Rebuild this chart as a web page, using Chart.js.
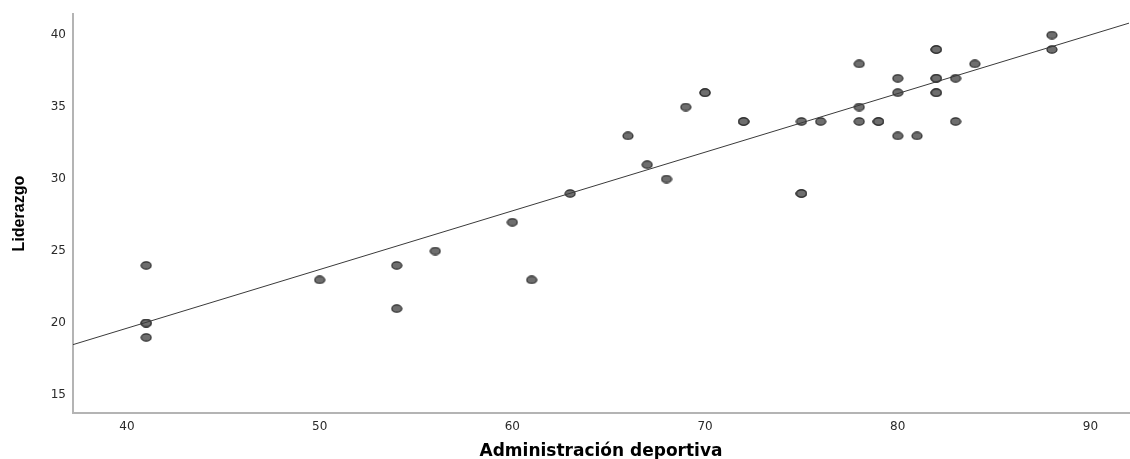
<!DOCTYPE html>
<html>
<head>
<meta charset="utf-8">
<script src="https://cdn.jsdelivr.net/npm/chart.js@4.4.1/dist/chart.umd.min.js"></script>
<style>
html,body{margin:0;padding:0;background:#fff;overflow:hidden;}
#wrap{width:1130px;height:459px;position:relative;overflow:hidden;}
canvas{display:block;}
</style>
</head>
<body>
<div id="wrap"><canvas id="c" width="1135" height="459"></canvas></div>
<script>
// Data
const adminValues = [41,41,41,41,50,54,54,56,60,61,63,66,67,68,69,70,70,72,72,75,75,75,76,78,78,78,79,79,80,80,80,81,82,82,82,82,82,82,83,83,84,88,88];
const liderazgoValues = [24,20,20,19,23,24,21,25,27,23,29,33,31,30,35,36,36,34,34,34,29,29,34,38,35,34,34,34,37,36,33,33,39,39,37,37,36,36,37,34,38,40,39];
const xTicks = [40,50,60,70,80,90];
const yTicks = [15,20,25,30,35,40];
const fitSlope = 0.4075;
const fitIntercept = 3.34;
const xRange = [37.2, 92];
const yRange = [13.75, 41.45];

const points = adminValues.map((x,i)=>({x:x, y:liderazgoValues[i]}));
const fitLine = xRange.map(x=>({x:x, y:fitIntercept + fitSlope*x}));

// elliptical marker
const mk = document.createElement('canvas');
mk.width = 12; mk.height = 9;
(function(){
  const g = mk.getContext('2d');
  g.beginPath();
  g.ellipse(6,4.5,5,3.7,0,0,Math.PI*2);
  g.fillStyle = '#6e6e6e';
  g.fill();
  g.lineWidth = 1.2;
  g.strokeStyle = '#2b2b2b';
  g.stroke();
})();

new Chart(document.getElementById('c'), {
  data: {
    datasets: [
      {
        type: 'line',
        data: fitLine,
        borderColor: '#3a3a3a',
        borderWidth: 1,
        pointRadius: 0,
        fill: false,
        tension: 0
      },
      {
        type: 'scatter',
        data: points,
        pointStyle: mk,
        pointRadius: 5
      }
    ]
  },
  options: {
    responsive: false,
    animation: false,
    events: [],
    layout: { padding: { top: 13, right: 0, left: 0, bottom: 0 } },
    plugins: { legend: { display: false }, tooltip: { enabled: false } },
    scales: {
      x: {
        type: 'linear',
        min: xRange[0], max: xRange[1],
        afterBuildTicks: s => { s.ticks = xTicks.map(v=>({value:v})); },
        afterFit: s => { s.height = 46; },
        grid: { display: false, drawTicks: false },
        border: { display: true, color: '#b4b4b4', width: 2 },
        ticks: { color: '#2a2a2a', font: { family: 'DejaVu Sans', size: 12 }, padding: 7, maxRotation: 0 },
        title: { display: true, text: 'Administración deportiva', color: '#000',
                 font: { family: 'DejaVu Sans', weight: 'bold', size: 17 }, padding: { top: 6, bottom: -3 } }
      },
      y: {
        type: 'linear',
        min: yRange[0], max: yRange[1],
        afterBuildTicks: s => { s.ticks = yTicks.map(v=>({value:v})); },
        afterFit: s => { s.width = 73; },
        grid: { display: false, drawTicks: false },
        border: { display: true, color: '#b4b4b4', width: 2 },
        ticks: { color: '#2a2a2a', font: { family: 'DejaVu Sans', size: 12 }, padding: 7 },
        title: { display: true, text: 'Liderazgo', color: '#000',
                 font: { family: "'Liberation Sans Narrow', 'Liberation Sans', Arial", weight: 'bold', size: 16 }, padding: { top: 10, bottom: 4 } }
      }
    }
  }
});
</script>
</body>
</html>
